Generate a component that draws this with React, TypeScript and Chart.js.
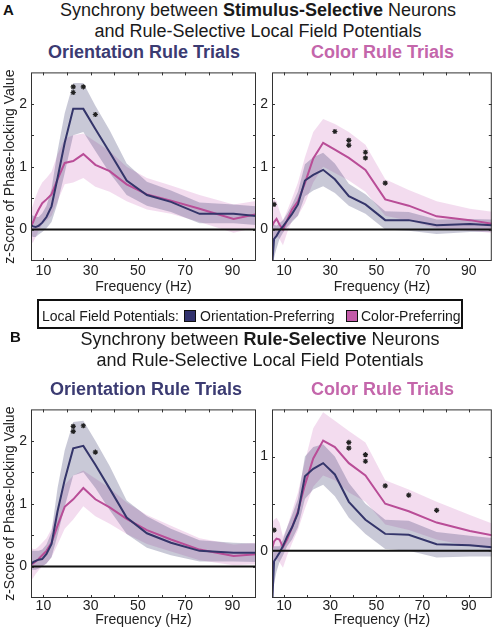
import React, { useEffect, useRef } from 'react';
import { Chart, registerables } from 'chart.js';

Chart.register(...registerables);

const FONT = "'Liberation Sans', Arial, Helvetica, sans-serif";
const NAVY = '#34356a';
const PINK = '#b94d97';
const NAVY_BAND = 'rgba(60,60,110,0.28)';
const PINK_BAND = 'rgba(205,110,190,0.24)';
const NAVY_TEXT = '#3b3b72';
const PINK_TEXT = '#c466ab';

// Frequencies (Hz), quarter-octave spacing
const freqs = [4.76, 5.66, 6.73, 8, 9.51, 11.31, 13.45, 16, 19.03, 22.63, 26.91, 32, 38.05, 45.25, 53.82, 64, 76.1, 90.51, 107.6];
const xTickMarks = [10, 20, 30, 40, 50, 60, 70, 80, 90];
const xTickLabels = [10, 30, 50, 70, 90];
const yTicksWide = [0, 0.5, 1, 1.5, 2];
const yTicksNarrow = [0, 0.5, 1];

// A: Stimulus-selective neurons, Orientation rule trials
const aOriNavy = [0.07, 0.05, 0.04, 0.06, 0.11, 0.2, 0.37, 0.82, 1.38, 1.92, 1.92, 1.6, 1.23, 0.78, 0.55, 0.44, 0.25, 0.25, 0.19];
const aOriNavyHi = [0.24, 0.22, 0.2, 0.2, 0.26, 0.38, 0.65, 1.25, 1.85, 2.33, 2.33, 1.97, 1.58, 1.05, 0.76, 0.62, 0.43, 0.4, 0.35];
const aOriNavyLo = [-0.1, -0.12, -0.12, -0.08, -0.04, 0.02, 0.12, 0.42, 0.9, 1.5, 1.55, 1.25, 0.9, 0.55, 0.38, 0.28, 0.1, 0.1, 0.05];
const aOriPink = [0.05, 0.12, 0.22, 0.32, 0.42, 0.48, 0.56, 0.8, 1.06, 1.09, 1.2, 1.03, 0.93, 0.72, 0.56, 0.46, 0.33, 0.17, 0.3];
const aOriPinkHi = [0.3, 0.4, 0.52, 0.64, 0.75, 0.82, 0.92, 1.2, 1.45, 1.5, 1.53, 1.4, 1.25, 1.0, 0.82, 0.7, 0.55, 0.4, 0.5];
const aOriPinkLo = [-0.22, -0.2, -0.12, -0.02, 0.08, 0.14, 0.22, 0.45, 0.72, 0.75, 0.82, 0.68, 0.6, 0.45, 0.32, 0.25, 0.12, -0.05, 0.1];
const aOriStarX = [22.63, 22.63, 26.91, 32];
const aOriStarY = [2.27, 2.18, 2.27, 1.83];

// A: Stimulus-selective neurons, Color rule trials
const aColNavy = [-0.6, -0.15, -0.1, -0.02, 0.05, 0.14, 0.25, 0.4, 0.78, 0.87, 0.95, 0.8, 0.53, 0.4, 0.15, 0.15, 0.07, 0.09, 0.05];
const aColNavyHi = [0.1, 0.08, 0.06, 0.1, 0.15, 0.25, 0.4, 0.6, 1.04, 1.15, 1.22, 1.05, 0.73, 0.56, 0.29, 0.28, 0.16, 0.17, 0.15];
const aColNavyLo = [-0.9, -0.45, -0.3, -0.15, -0.05, 0.04, 0.12, 0.22, 0.53, 0.62, 0.69, 0.58, 0.38, 0.25, 0.0, -0.02, -0.07, -0.04, -0.03];
const aColPink = [0.05, 0.12, 0.17, 0.08, 0.0, 0.15, 0.32, 0.45, 0.74, 1.13, 1.38, 1.27, 1.14, 0.95, 0.48, 0.38, 0.21, 0.15, 0.05];
const aColPinkHi = [0.45, 0.48, 0.45, 0.3, 0.15, 0.3, 0.5, 0.75, 1.15, 1.55, 1.76, 1.68, 1.55, 1.35, 0.8, 0.63, 0.45, 0.33, 0.25];
const aColPinkLo = [-0.3, -0.2, -0.1, -0.15, -0.25, -0.05, 0.14, 0.22, 0.42, 0.75, 1.0, 0.9, 0.78, 0.6, 0.22, 0.14, 0.02, -0.02, -0.08];
const aColStarX = [5.66, 32, 38.05, 38.05, 45.25, 45.25, 53.82];
const aColStarY = [0.4, 1.56, 1.42, 1.34, 1.23, 1.14, 0.74];

// B: Rule-selective neurons, Orientation rule trials
const bOriNavy = [0.04, 0.07, 0.09, 0.11, 0.12, 0.2, 0.36, 0.88, 1.38, 1.88, 1.92, 1.62, 1.24, 0.78, 0.53, 0.38, 0.25, 0.22, 0.22];
const bOriNavyHi = [0.25, 0.25, 0.25, 0.25, 0.27, 0.35, 0.55, 1.25, 1.85, 2.3, 2.32, 2.0, 1.6, 1.05, 0.8, 0.6, 0.42, 0.38, 0.36];
const bOriNavyLo = [-0.05, -0.05, -0.05, -0.03, 0.0, 0.05, 0.15, 0.5, 0.95, 1.45, 1.5, 1.25, 0.9, 0.52, 0.3, 0.18, 0.08, 0.08, 0.07];
const bOriPink = [0.03, 0.05, 0.08, 0.12, 0.18, 0.25, 0.38, 0.65, 0.95, 1.07, 1.25, 1.07, 0.94, 0.76, 0.58, 0.43, 0.27, 0.17, 0.22];
const bOriPinkHi = [0.3, 0.28, 0.28, 0.32, 0.38, 0.45, 0.6, 0.95, 1.3, 1.45, 1.53, 1.4, 1.25, 1.02, 0.82, 0.65, 0.45, 0.35, 0.4];
const bOriPinkLo = [-0.22, -0.18, -0.12, -0.06, 0.0, 0.05, 0.15, 0.35, 0.6, 0.75, 0.96, 0.8, 0.68, 0.52, 0.36, 0.24, 0.1, 0.02, 0.05];
const bOriStarX = [22.63, 22.63, 26.91, 32];
const bOriStarY = [2.23, 2.15, 2.24, 1.82];

// B: Rule-selective neurons, Color rule trials
const bColNavy = [-0.6, -0.11, -0.07, -0.02, 0.05, 0.15, 0.25, 0.4, 0.79, 0.87, 0.93, 0.81, 0.52, 0.33, 0.18, 0.17, 0.07, 0.06, 0.02];
const bColNavyHi = [0.05, 0.05, 0.05, 0.05, 0.12, 0.25, 0.38, 0.55, 1.0, 1.1, 1.13, 1.0, 0.72, 0.5, 0.33, 0.32, 0.2, 0.16, 0.12];
const bColNavyLo = [-0.9, -0.35, -0.22, -0.12, -0.05, 0.05, 0.12, 0.25, 0.55, 0.65, 0.7, 0.58, 0.35, 0.18, 0.02, 0.0, -0.07, -0.06, -0.06];
const bColPink = [0.02, 0.1, 0.13, 0.12, 0.04, 0.12, 0.25, 0.42, 0.7, 0.98, 1.17, 1.1, 0.93, 0.8, 0.5, 0.42, 0.3, 0.21, 0.13];
const bColPinkHi = [0.3, 0.33, 0.35, 0.3, 0.15, 0.25, 0.42, 0.62, 0.95, 1.3, 1.47, 1.38, 1.27, 1.15, 0.75, 0.65, 0.52, 0.38, 0.22];
const bColPinkLo = [-0.2, -0.12, -0.08, -0.12, -0.18, -0.05, 0.08, 0.22, 0.45, 0.68, 0.8, 0.75, 0.62, 0.52, 0.28, 0.22, 0.12, 0.05, 0.0];
const bColStarX = [5.66, 38.05, 38.05, 45.25, 45.25, 53.82, 64, 76.1];
const bColStarY = [0.22, 1.15, 1.09, 1.02, 0.95, 0.69, 0.59, 0.43];

const pts = (ys: number[]) => freqs.map((f, i) => ({ x: f, y: ys[i] }));
const starPts = (xs: number[], ys: number[]) => xs.map((x, i) => ({ x, y: ys[i] }));

interface Series {
  navy: number[]; navyHi: number[]; navyLo: number[];
  pink: number[]; pinkHi: number[]; pinkLo: number[];
  starX: number[]; starY: number[];
  yMax: number; yTicks: number[];
}

interface Layout {
  left: number; top: number; width: number; height: number;
  yAxisWidth: number; padRight: number; xAxisHeight: number;
  tickPad: number; titlePad: number; yTitle: boolean;
}

const framePlugin = {
  id: 'matlabFrame',
  afterDatasetsDraw(chart: any) {
    const { ctx, chartArea } = chart;
    const { left, right, top, bottom } = chartArea;
    const x = chart.scales.x;
    const y = chart.scales.y;
    const yTicks: number[] = chart.options.plugins.matlabFrame.yTicks;
    ctx.save();
    // zero line
    const y0 = y.getPixelForValue(0);
    ctx.strokeStyle = '#111';
    ctx.lineWidth = 2;
    ctx.beginPath();
    ctx.moveTo(left, y0);
    ctx.lineTo(right, y0);
    ctx.stroke();
    // box
    ctx.lineWidth = 1;
    ctx.strokeStyle = '#333';
    ctx.strokeRect(left + 0.5, top + 0.5, right - left - 1, bottom - top - 1);
    // inward ticks
    ctx.beginPath();
    for (const v of xTickMarks) {
      const px = Math.round(x.getPixelForValue(v)) + 0.5;
      ctx.moveTo(px, bottom);
      ctx.lineTo(px, bottom - 3);
      ctx.moveTo(px, top);
      ctx.lineTo(px, top + 3);
    }
    for (const v of yTicks) {
      const py = Math.round(y.getPixelForValue(v)) + 0.5;
      ctx.moveTo(left, py);
      ctx.lineTo(left + 3, py);
      ctx.moveTo(right, py);
      ctx.lineTo(right - 3, py);
    }
    ctx.stroke();
    ctx.restore();
  },
};

function buildConfig(s: Series, l: Layout): any {
  const line = (data: number[], color: string) => ({
    data: pts(data), borderColor: color, borderWidth: 2, pointRadius: 0, fill: false, tension: 0,
  });
  const bandHi = (data: number[], color: string) => ({
    data: pts(data), borderColor: 'transparent', borderWidth: 0, pointRadius: 0,
    fill: '+1', backgroundColor: color, tension: 0,
  });
  const bandLo = (data: number[]) => ({
    data: pts(data), borderColor: 'transparent', borderWidth: 0, pointRadius: 0, fill: false, tension: 0,
  });
  return {
    type: 'line',
    data: {
      datasets: [
        {
          data: starPts(s.starX, s.starY), showLine: false, pointStyle: 'star', pointRadius: 2.6,
          pointBorderWidth: 1.2, borderColor: '#222', backgroundColor: '#222',
        },
        line(s.navy, NAVY),
        line(s.pink, PINK),
        bandHi(s.navyHi, NAVY_BAND),
        bandLo(s.navyLo),
        bandHi(s.pinkHi, PINK_BAND),
        bandLo(s.pinkLo),
      ],
    },
    options: {
      responsive: false,
      animation: false,
      events: [],
      layout: { padding: { left: 0, top: 5, right: l.padRight, bottom: 0 } },
      plugins: {
        legend: { display: false },
        tooltip: { enabled: false },
        matlabFrame: { yTicks: s.yTicks },
      },
      scales: {
        x: {
          type: 'linear', min: 4.76, max: 100,
          grid: { display: false, drawTicks: false, tickLength: 0 },
          border: { display: false },
          ticks: {
            autoSkip: false, maxRotation: 0, padding: l.tickPad, color: '#222',
            font: { family: FONT, size: 14 },
            callback: (v: number) => (xTickLabels.includes(v) ? String(v) : ''),
          },
          afterBuildTicks: (sc: any) => { sc.ticks = xTickMarks.map((v) => ({ value: v })); },
          afterFit: (sc: any) => { sc.height = l.xAxisHeight; },
          title: {
            display: true, text: 'Frequency (Hz)', color: '#222',
            font: { family: FONT, size: 14 }, padding: { top: 0, bottom: l.titlePad },
          },
        },
        y: {
          type: 'linear', min: -0.5, max: s.yMax,
          grid: { display: false, drawTicks: false, tickLength: 0 },
          border: { display: false },
          ticks: {
            autoSkip: false, padding: 4, color: '#222',
            font: { family: FONT, size: 14 },
            callback: (v: number) => (Number.isInteger(v) ? String(v) : ''),
          },
          afterBuildTicks: (sc: any) => { sc.ticks = s.yTicks.map((v) => ({ value: v })); },
          afterFit: (sc: any) => { sc.width = l.yAxisWidth; },
          title: {
            display: l.yTitle, text: 'z-Score of Phase-locking Value', color: '#222',
            font: { family: FONT, size: 14 }, padding: { top: 1.6, bottom: 0 },
          },
        },
      },
    },
    plugins: [framePlugin],
  };
}

function Panel({ series, layout }: { series: Series; layout: Layout }) {
  const ref = useRef<HTMLCanvasElement | null>(null);
  useEffect(() => {
    if (!ref.current) return;
    const chart = new Chart(ref.current, buildConfig(series, layout));
    return () => chart.destroy();
  }, []);
  return (
    <canvas
      ref={ref}
      width={layout.width}
      height={layout.height}
      style={{ position: 'absolute', left: layout.left, top: layout.top, width: layout.width, height: layout.height }}
    />
  );
}

const seriesAOri: Series = { navy: aOriNavy, navyHi: aOriNavyHi, navyLo: aOriNavyLo, pink: aOriPink, pinkHi: aOriPinkHi, pinkLo: aOriPinkLo, starX: aOriStarX, starY: aOriStarY, yMax: 2.5, yTicks: yTicksWide };
const seriesACol: Series = { navy: aColNavy, navyHi: aColNavyHi, navyLo: aColNavyLo, pink: aColPink, pinkHi: aColPinkHi, pinkLo: aColPinkLo, starX: aColStarX, starY: aColStarY, yMax: 2.5, yTicks: yTicksWide };
const seriesBOri: Series = { navy: bOriNavy, navyHi: bOriNavyHi, navyLo: bOriNavyLo, pink: bOriPink, pinkHi: bOriPinkHi, pinkLo: bOriPinkLo, starX: bOriStarX, starY: bOriStarY, yMax: 2.5, yTicks: yTicksWide };
const seriesBCol: Series = { navy: bColNavy, navyHi: bColNavyHi, navyLo: bColNavyLo, pink: bColPink, pinkHi: bColPinkHi, pinkLo: bColPinkLo, starX: bColStarX, starY: bColStarY, yMax: 1.5, yTicks: yTicksNarrow };

const layoutAOri: Layout = { left: 0, top: 60, width: 262, height: 240, yAxisWidth: 31, padRight: 6, xAxisHeight: 39, tickPad: 2, titlePad: 4.2, yTitle: true };
const layoutACol: Layout = { left: 257, top: 60, width: 240, height: 240, yAxisWidth: 15, padRight: 2, xAxisHeight: 39, tickPad: 2, titlePad: 4.2, yTitle: false };
const layoutBOri: Layout = { left: 0, top: 397, width: 262, height: 235, yAxisWidth: 31, padRight: 6, xAxisHeight: 34, tickPad: 0, titlePad: 3, yTitle: true };
const layoutBCol: Layout = { left: 257, top: 397, width: 240, height: 235, yAxisWidth: 15, padRight: 2, xAxisHeight: 34, tickPad: 0, titlePad: 3, yTitle: false };

const centered = (cx: number, top: number, extra: React.CSSProperties = {}): React.CSSProperties => ({
  position: 'absolute', left: cx, top, transform: 'translateX(-50%)', whiteSpace: 'nowrap',
  fontSize: 18, lineHeight: '20px', color: '#1a1a1a', ...extra,
});

export default function App() {
  return (
    <div style={{ position: 'absolute', left: 0, top: 0, width: 497, height: 632, overflow: 'hidden', background: '#fff', fontFamily: FONT }}>
      <div style={{ position: 'absolute', left: 3, top: 2, fontSize: 15, lineHeight: '16px', fontWeight: 'bold', color: '#111' }}>A</div>
      <div style={centered(258, 0)}>Synchrony between <b>Stimulus-Selective</b> Neurons</div>
      <div style={centered(258, 21)}>and Rule-Selective Local Field Potentials</div>
      <div style={centered(144, 41.5, { fontWeight: 'bold', color: NAVY_TEXT })}>Orientation Rule Trials</div>
      <div style={centered(382.5, 41.5, { fontWeight: 'bold', color: PINK_TEXT })}>Color Rule Trials</div>

      <Panel series={seriesAOri} layout={layoutAOri} />
      <Panel series={seriesACol} layout={layoutACol} />

      <div style={{ position: 'absolute', left: 37, top: 299, width: 426, height: 30, boxSizing: 'border-box', border: '2px solid #111' }} />
      <div style={{ position: 'absolute', left: 42, top: 308, fontSize: 14, lineHeight: '16px', color: '#1a1a1a', whiteSpace: 'nowrap' }}>Local Field Potentials:</div>
      <div style={{ position: 'absolute', left: 184, top: 310, width: 12, height: 12, boxSizing: 'border-box', background: '#33336e', border: '1px solid #111' }} />
      <div style={{ position: 'absolute', left: 200, top: 308, fontSize: 14, lineHeight: '16px', color: '#1a1a1a', whiteSpace: 'nowrap' }}>Orientation-Preferring</div>
      <div style={{ position: 'absolute', left: 346, top: 310, width: 12, height: 12, boxSizing: 'border-box', background: '#c25aa8', border: '1px solid #111' }} />
      <div style={{ position: 'absolute', left: 361, top: 308, fontSize: 14, lineHeight: '16px', color: '#1a1a1a', whiteSpace: 'nowrap' }}>Color-Preferring</div>

      <div style={{ position: 'absolute', left: 10, top: 329, fontSize: 15, lineHeight: '16px', fontWeight: 'bold', color: '#111' }}>B</div>
      <div style={centered(260, 329)}>Synchrony between <b>Rule-Selective</b> Neurons</div>
      <div style={centered(260, 350)}>and Rule-Selective Local Field Potentials</div>
      <div style={centered(146, 379, { fontWeight: 'bold', color: NAVY_TEXT })}>Orientation Rule Trials</div>
      <div style={centered(382.5, 379, { fontWeight: 'bold', color: PINK_TEXT })}>Color Rule Trials</div>

      <Panel series={seriesBOri} layout={layoutBOri} />
      <Panel series={seriesBCol} layout={layoutBCol} />
    </div>
  );
}
